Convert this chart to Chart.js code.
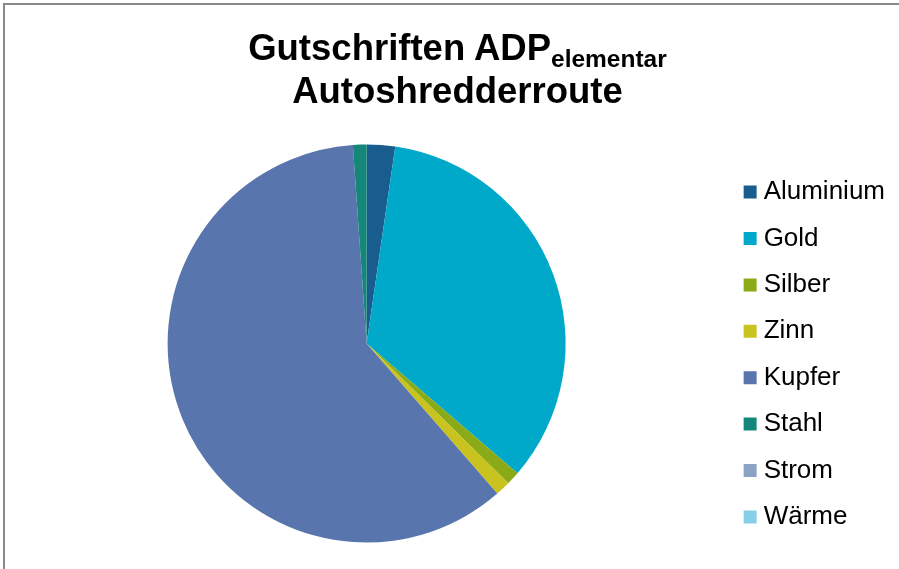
<!DOCTYPE html>
<html>
<head>
<meta charset="utf-8">
<script src="https://cdn.jsdelivr.net/npm/chart.js@4/dist/chart.umd.min.js"></script>
<style>
  html, body { margin: 0; padding: 0; background: #fff; }
  #wrap { position: relative; width: 899px; height: 569px; overflow: hidden; background: #fff; }
  #frame { position: absolute; left: 3px; top: 3px; width: 910px; height: 580px;
           border-top: 2px solid #888; border-left: 2px solid #888; }
  #chart { position: absolute; left: 0; top: 0; }
  .title { position: absolute; left: 16px; width: 883px; text-align: center;
           font-family: "Liberation Sans", Arial, sans-serif; font-weight: bold;
           font-size: 36.5px; line-height: 36.5px; color: #000; white-space: nowrap; }
  .title sub { font-size: 24.5px; line-height: 0; vertical-align: -7px; }
</style>
</head>
<body>
<div id="wrap">
  <div id="frame"></div>
  <canvas id="chart" width="899" height="569"></canvas>
  <div class="title" style="top:30px">Gutschriften ADP<sub>elementar</sub></div>
  <div class="title" style="top:73px">Autoshredderroute</div>
</div>
<script>
// categories and their share of the credits (in %)
var categories = ['Aluminium', 'Gold', 'Silber', 'Zinn', 'Kupfer', 'Stahl', 'Strom', 'Wärme'];
var values = [2.3, 34.0, 1.1, 1.2, 60.3, 1.1, 0, 0];
var colors = ['#195D8F', '#00A9CA', '#8BAA18', '#C9C31F', '#5876AD', '#14877A', '#8BA3C3', '#87CFE8'];

var ctx = document.getElementById('chart');

var pieChart = new Chart(ctx, {
  type: 'pie',
  data: {
    labels: categories,
    datasets: [{
      data: values,
      backgroundColor: colors,
      borderWidth: 0,
      radius: 199
    }]
  },
  options: {
    responsive: false,
    animation: false,
    events: [],
    layout: { padding: { left: 4, right: 4, top: 120, bottom: 2 } },
    plugins: {
      tooltip: { enabled: false },
      legend: {
        position: 'right',
        align: 'center',
        // empty title only used to push the items down a bit
        title: { display: true, text: ' ', font: { size: 10, lineHeight: 1 }, padding: { top: 12, bottom: 0 } },
        labels: {
          usePointStyle: true,
          pointStyle: 'rect',
          boxWidth: 1,
          boxHeight: 13,
          padding: 20.4,
          color: '#000',
          font: { family: '"Liberation Sans", Arial, sans-serif', size: 26 }
        }
      }
    }
  }
});
</script>
</body>
</html>
